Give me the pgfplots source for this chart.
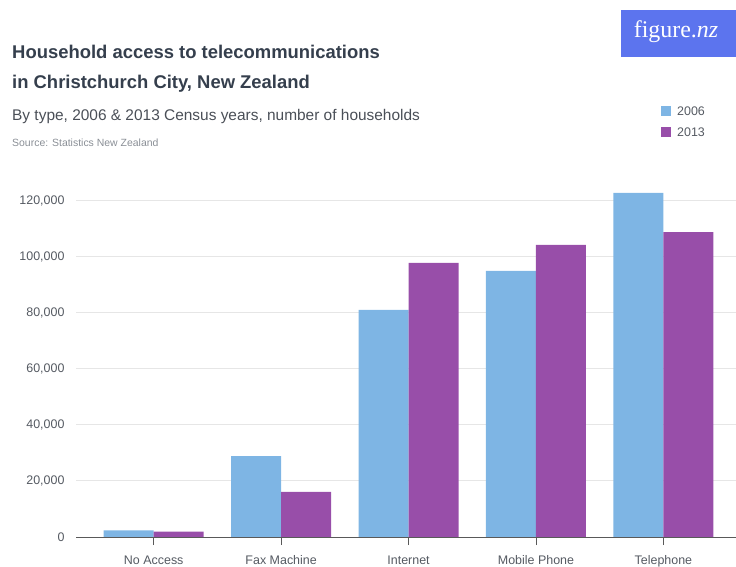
\documentclass[border=0pt]{standalone}
\usepackage{pgfplots}
\pgfplotsset{compat=1.18}
\usepackage{fontspec}
\setmainfont{Liberation Sans}
\newfontfamily\logofont{Liberation Serif}
\definecolor{c2006}{HTML}{7EB5E4}
\definecolor{c2013}{HTML}{984EA9}
\definecolor{titlecol}{HTML}{353F4D}
\definecolor{subcol}{HTML}{4A4F57}
\definecolor{srccol}{HTML}{8A8F96}
\definecolor{tickcol}{HTML}{555A62}
\definecolor{gridcol}{HTML}{E6E6E6}
\definecolor{logobg}{HTML}{5C74EE}
\begin{document}
\begin{tikzpicture}[x=1bp,y=1bp]
\path[use as bounding box] (0,0) rectangle (736,567);
\begin{axis}[
  at={(76bp,30bp)}, anchor=south west,
  scale only axis, width=660bp, height=350bp,
  xmin=-0.61, xmax=4.57, ymin=0, ymax=125000,
  ybar=0pt, bar width=50bp,
  axis x line=bottom, axis y line=left,
  x axis line style={draw=gray!70!black, line width=1pt, -},
  y axis line style={draw=none},
  xtick={0,1,2,3,4},
  xticklabels={No Access, Fax Machine, Internet, Mobile Phone, Telephone},
  xtick style={draw=gray!70!black, line width=0.8pt},
  major tick length=8bp,
  xtick align=outside,
  xticklabel style={font=\fontsize{12.5}{14}\selectfont, text=tickcol, yshift=-7bp},
  scaled y ticks=false,
  ytick={0,20000,40000,60000,80000,100000,120000},
  yticklabels={0,{20,000},{40,000},{60,000},{80,000},{100,000},{120,000}},
  yticklabel style={font=\fontsize{12.5}{14}\selectfont, text=tickcol, anchor=east, xshift=-4bp},
  ymajorgrids, grid style={draw=gridcol, line width=1pt},
  ytick style={draw=none},
  clip=false,
]
\addplot[fill=c2006, draw=none] coordinates {(0,2400) (1,28900) (2,81100) (3,95000) (4,122900)};
\addplot[fill=c2013, draw=none] coordinates {(0,1900) (1,16100) (2,97900) (3,104300) (4,108900)};
\end{axis}
% titles
\node[anchor=base west, inner sep=0, text=titlecol, font=\bfseries\fontsize{18.5}{22}\selectfont] at (12,508) {Household access to telecommunications};
\node[anchor=base west, inner sep=0, text=titlecol, font=\bfseries\fontsize{18.5}{22}\selectfont] at (12,478) {in Christchurch City, New Zealand};
\node[anchor=base west, inner sep=0, text=subcol, font=\fontsize{15.5}{18}\selectfont] at (12,446) {By type, 2006 \& 2013 Census years, number of households};
\node[anchor=base west, inner sep=0, text=srccol, font=\fontsize{10.5}{12}\selectfont] at (12,420) {Source: Statistics New Zealand};
% logo
\fill[logobg] (621,510) rectangle (736,557);
\node[anchor=center, inner sep=0, text=white, font=\logofont\fontsize{24}{26}\selectfont] at (676,535) {figure.\textit{nz}};
% legend
\fill[c2006] (661,451) rectangle (671,461);
\node[anchor=west, inner sep=0, text=tickcol, font=\fontsize{12.5}{14}\selectfont] at (677,456) {2006};
\fill[c2013] (661,430) rectangle (671,440);
\node[anchor=west, inner sep=0, text=tickcol, font=\fontsize{12.5}{14}\selectfont] at (677,435) {2013};
\end{tikzpicture}
\end{document}
